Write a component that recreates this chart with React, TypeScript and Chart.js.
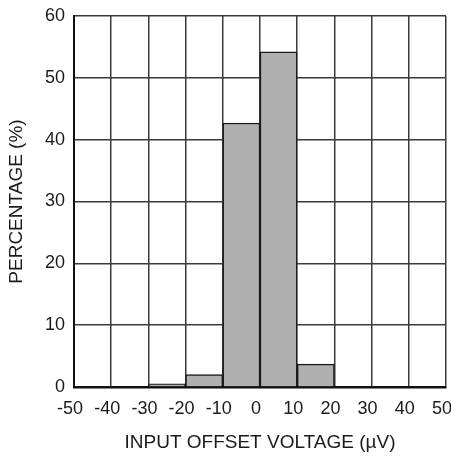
import React, { useEffect, useRef } from "react";
import { Chart, registerables } from "chart.js";

Chart.register(...registerables);

const binCenters = [-45, -35, -25, -15, -5, 5, 15, 25, 35, 45];
const percentages = [0, 0, 0.5, 2.0, 42.7, 54.2, 3.7, 0, 0, 0];
const xTitle = "INPUT OFFSET VOLTAGE (µV)";
const yTitle = "PERCENTAGE (%)";

export default function App() {
  const ref = useRef<HTMLCanvasElement | null>(null);
  useEffect(() => {
    if (!ref.current) return;
    const family = "'Liberation Sans', Arial, sans-serif";
    const tickFont = { family, size: 18 };
    const titleFont = { family, size: 19 };
    const chart = new Chart(ref.current, {
      type: "bar",
      data: {
        datasets: [
          {
            data: binCenters.map((x, i) => ({ x, y: percentages[i] })),
            backgroundColor: "#b0b0b0",
            borderColor: "#1a1a1a",
            borderWidth: 1.5,
            barPercentage: 1,
            categoryPercentage: 1,
          },
        ],
      },
      options: {
        animation: false,
        responsive: false,
        maintainAspectRatio: false,
        layout: { padding: { top: 16, right: 5, left: 0, bottom: 0 } },
        plugins: { legend: { display: false }, tooltip: { enabled: false } },
        scales: {
          x: {
            type: "linear",
            min: -50,
            max: 50,
            offset: false,
            grid: { offset: false, color: "#3a3a3a", lineWidth: 1.5, drawTicks: false },
            border: { color: "#111", width: 2.5 },
            ticks: { stepSize: 10, color: "#1a1a1a", font: tickFont, padding: 11, labelOffset: -4, maxRotation: 0, autoSkip: false },
            title: { display: true, text: xTitle, color: "#1a1a1a", font: titleFont, padding: { top: 0, bottom: 5 } },
            afterFit: (s: any) => { s.height = 72; s.paddingLeft = 0; s.paddingRight = 0; },
          },
          y: {
            min: 0,
            max: 60,
            grid: { color: "#3a3a3a", lineWidth: 1.5, drawTicks: false },
            border: { color: "#111", width: 2 },
            ticks: { stepSize: 10, color: "#1a1a1a", font: tickFont, padding: 9 },
            title: { display: true, text: yTitle, color: "#1a1a1a", font: titleFont, padding: { top: 5, bottom: 0 } },
            afterFit: (s: any) => { s.width = 74; s.paddingTop = 0; s.paddingBottom = 0; },
          },
        },
      },
    });
    return () => chart.destroy();
  }, []);
  return (
    <div style={{ position: "absolute", left: 0, top: 0, width: 451, height: 459, background: "#fff" }}>
      <canvas ref={ref} width={451} height={459} style={{ width: 451, height: 459 }} />
    </div>
  );
}
